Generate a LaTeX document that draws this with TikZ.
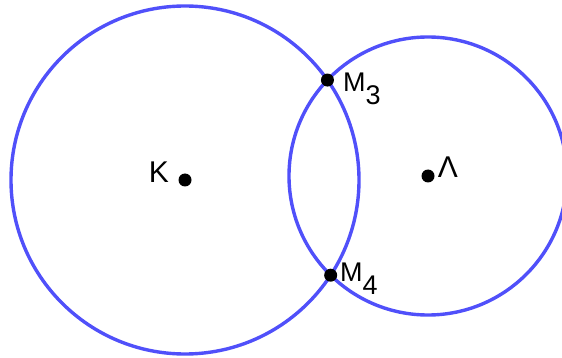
\documentclass[tikz,border=0pt]{standalone}
\usepackage{fontspec}
\setmainfont{Liberation Sans}
\usetikzlibrary{intersections}
\definecolor{circblue}{RGB}{80,80,250}
\newcommand{\lowsub}[1]{\raisebox{-13pt}{#1}}
\tikzset{
  circ/.style={draw=circblue, line width=3.4pt},
  pt/.style={circle, fill=black, inner sep=0pt, minimum size=13pt},
  lbl/.style={font=\fontsize{27}{32}\selectfont, inner sep=0pt},
  biglbl/.style={font=\fontsize{30}{36}\selectfont, inner sep=0pt}
}
\begin{document}
\begin{tikzpicture}[x=1pt,y=-1pt]
\useasboundingbox (0,0) rectangle (562,358);
\coordinate (Kc) at (185,180);
\coordinate (Lc) at (428,176);
\draw[circ, name path=ck] (Kc) circle[radius=174];
\draw[circ, name path=cl] (Lc) circle[radius=139];
\path[name intersections={of=ck and cl, by={I1,I2}}];
\node[pt] (K) at (Kc) {};
\node[pt] (L) at (Lc) {};
\node[pt] (M3) at (I1) {};
\node[pt] (M4) at (I2) {};
\node[biglbl, anchor=base] (Kl) at (159,183) {K};
\node[biglbl, anchor=base] (Ll) at (448,178) {Λ};
\node[lbl, anchor=base west] (M3l) at (343,92) {M\lowsub{3}};
\node[lbl, anchor=base west] (M4l) at (340,281) {M\lowsub{4}};
\end{tikzpicture}
\end{document}
